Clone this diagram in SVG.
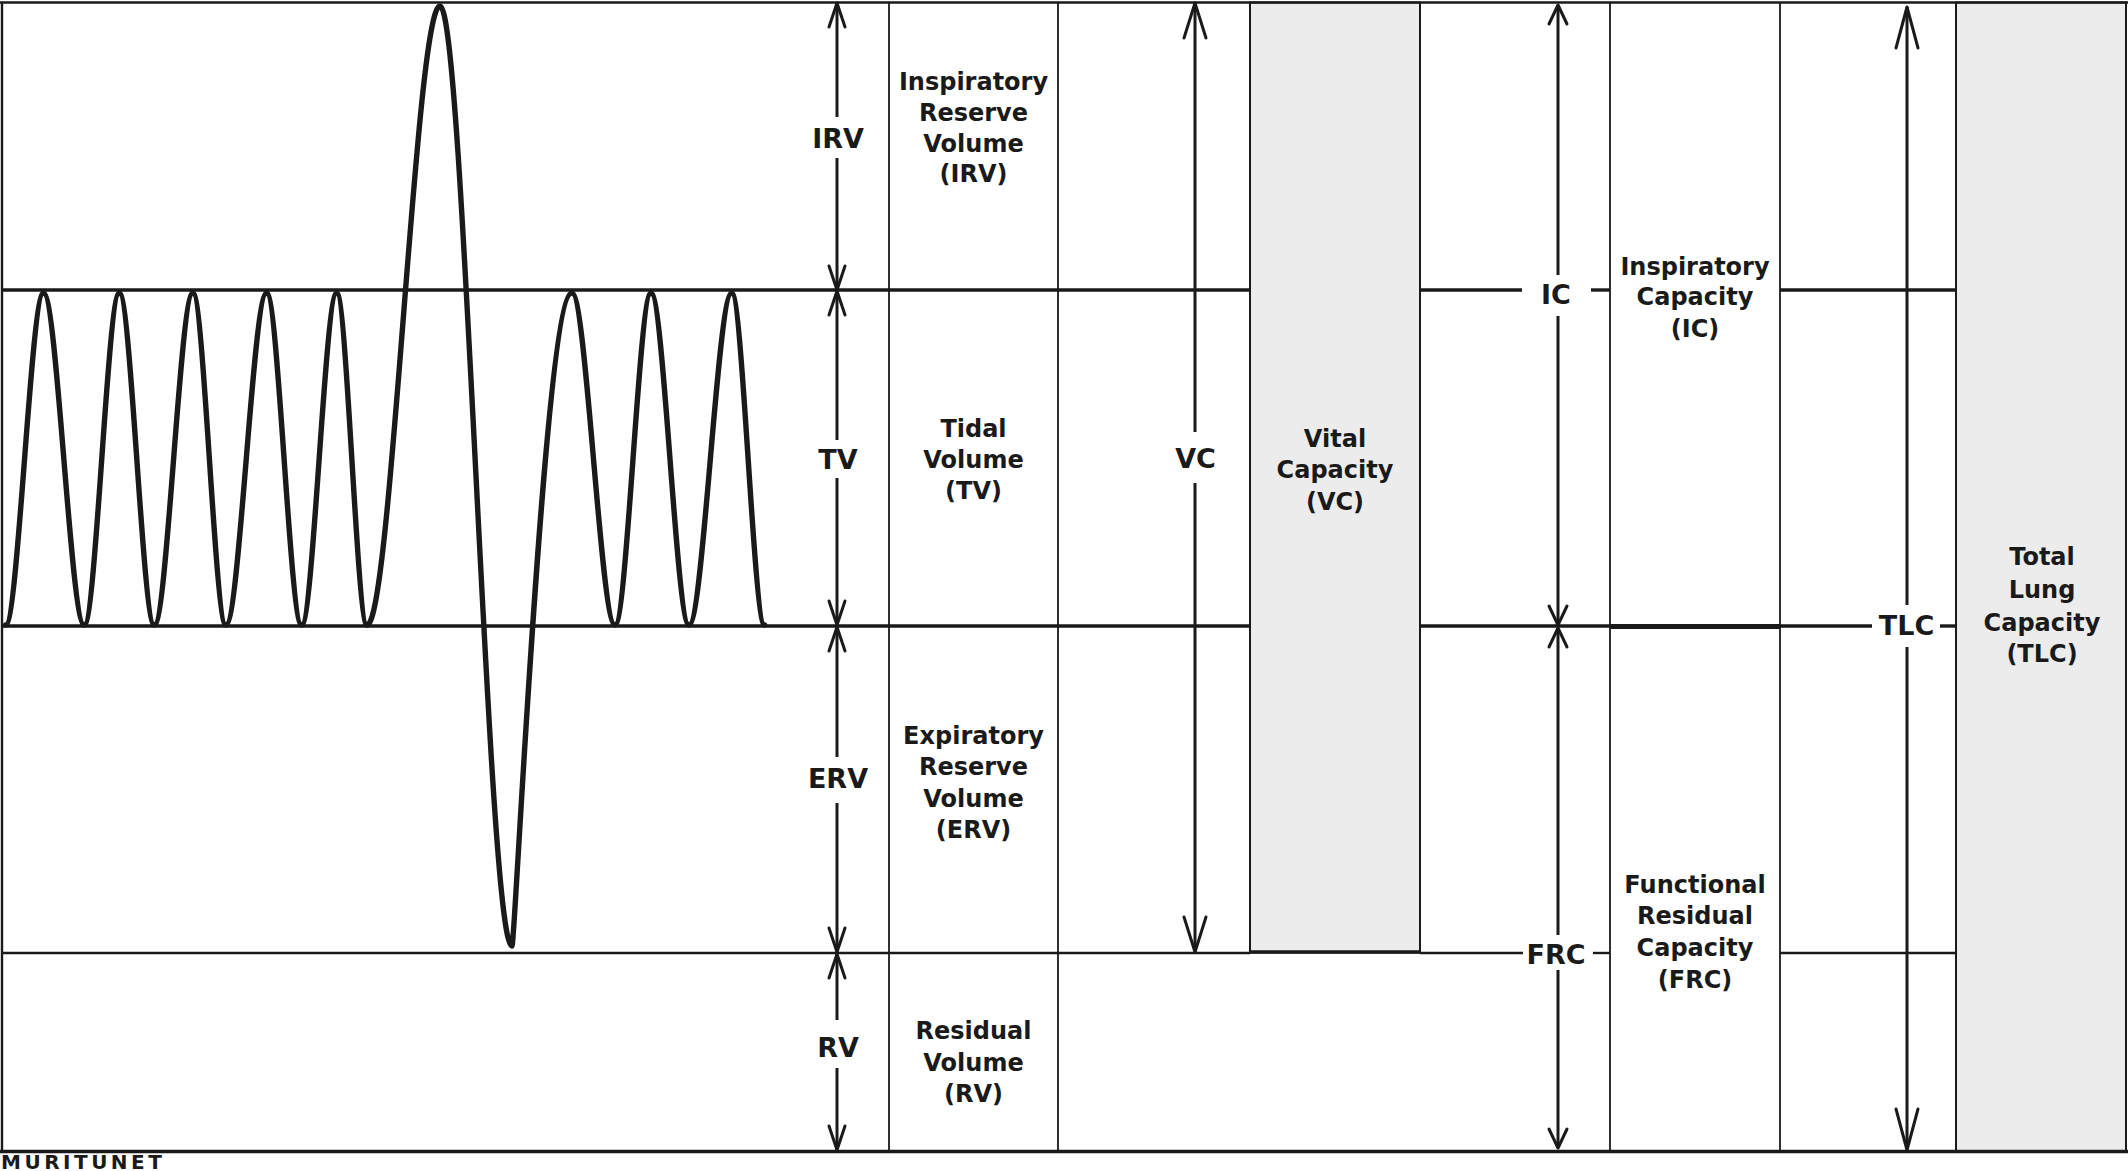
<svg xmlns="http://www.w3.org/2000/svg" width="2128" height="1171" viewBox="0 0 2128 1171">
<style>
.ln{stroke:#1a1a1a;fill:none;stroke-linecap:butt}
.thin{stroke-width:1.8}
.mid{stroke-width:2.4}
.thick{stroke-width:3.4}
.shaft{stroke:#1a1a1a;stroke-width:3;fill:none}
.lbl{font-family:"DejaVu Sans","Liberation Sans",sans-serif;font-weight:bold;font-size:27px;fill:#1a1a1a;text-anchor:middle}
.box{font-family:"DejaVu Sans","Liberation Sans",sans-serif;font-weight:bold;font-size:24px;fill:#1a1a1a;text-anchor:middle}
.cap{fill:#ececec;stroke:#1a1a1a;stroke-width:2}
.wave{fill:none;stroke:#1a1a1a;stroke-width:5.4;stroke-linejoin:round;stroke-linecap:round}
.mk{fill:none;stroke:#1a1a1a;stroke-width:3;stroke-linejoin:round;stroke-linecap:round}
.wm{font-family:"DejaVu Sans","Liberation Sans",sans-serif;font-weight:bold;font-size:20px;fill:#1a1a1a;letter-spacing:3.5px}
</style>
<defs>
<marker id="ahS" markerUnits="userSpaceOnUse" viewBox="-50 -20 60 40" markerWidth="60" markerHeight="40" refX="0" refY="0" orient="auto-start-reverse" overflow="visible"><path class="mk" d="M-24,-8 L0,0 L-24,8"/></marker>
<marker id="ahM" markerUnits="userSpaceOnUse" viewBox="-50 -20 60 40" markerWidth="60" markerHeight="40" refX="0" refY="0" orient="auto-start-reverse" overflow="visible"><path class="mk" d="M-19,-9 L0,0 L-19,9"/></marker>
<marker id="ahL" markerUnits="userSpaceOnUse" viewBox="-50 -20 60 40" markerWidth="60" markerHeight="40" refX="0" refY="0" orient="auto-start-reverse" overflow="visible"><path class="mk" d="M-35,-11 L0,0 L-35,11"/></marker>
<marker id="ahXL" markerUnits="userSpaceOnUse" viewBox="-50 -20 60 40" markerWidth="60" markerHeight="40" refX="0" refY="0" orient="auto-start-reverse" overflow="visible"><path class="mk" d="M-41,-11 L0,0 L-41,11"/></marker>
</defs>
<rect x="0" y="0" width="2128" height="1171" fill="#ffffff"/>

<g id="grid">
  <rect id="vc-band" class="cap" x="1250" y="2.5" width="170" height="950"/>
  <rect id="tlc-band" class="cap" x="1956" y="2.5" width="170" height="1148.5"/>
  <line class="ln mid" x1="0" y1="2.5" x2="2128" y2="2.5"/>
  <line class="ln mid" x1="2" y1="2" x2="2" y2="1152"/>
  <line class="ln thick" x1="0" y1="1151.5" x2="2128" y2="1151.5"/>
  <line class="ln thin" x1="889" y1="2" x2="889" y2="1151"/>
  <line class="ln thin" x1="1058" y1="2" x2="1058" y2="1151"/>
  <line class="ln thin" x1="1610" y1="2" x2="1610" y2="1151"/>
  <line class="ln thin" x1="1780" y1="2" x2="1780" y2="1151"/>
  <line class="ln thick" x1="3" y1="290" x2="1250" y2="290"/>
  <line class="ln thick" x1="1420" y1="290" x2="1522" y2="290"/>
  <line class="ln thick" x1="1591" y1="290" x2="1610" y2="290"/>
  <line class="ln thick" x1="1780" y1="290" x2="1956" y2="290"/>
  <line class="ln thick" x1="3" y1="626" x2="1250" y2="626"/>
  <line class="ln thick" x1="1420" y1="626" x2="1610" y2="626"/>
  <line class="ln" stroke-width="5" x1="1610" y1="626.5" x2="1780" y2="626.5"/>
  <line class="ln thick" x1="1780" y1="626" x2="1872" y2="626"/>
  <line class="ln thick" x1="1940" y1="626" x2="1956" y2="626"/>
  <line class="ln mid" x1="3" y1="953" x2="1250" y2="953"/>
  <line class="ln thick" x1="1250" y1="952" x2="1420" y2="952"/>
  <line class="ln mid" x1="1420" y1="953" x2="1523" y2="953"/>
  <line class="ln mid" x1="1593" y1="953" x2="1610" y2="953"/>
  <line class="ln mid" x1="1780" y1="953" x2="1956" y2="953"/>
</g>

<g id="spirogram">
  <path class="wave" d="M5.6,625 C18.2,625 30.9,293 43.5,293 C57.1,293 70.6,625 84.2,625 C95.9,625 107.6,293 119.3,293 C131,293 142.6,625 154.3,625 C167.2,625 180,293 192.9,293 C203.9,293 214.9,625 225.9,625 C239.5,625 253,293 266.6,293 C278.3,293 289.9,625 301.6,625 C313.3,625 325,293 336.7,293 C346.8,293 356.9,625 367,625 C391.3,625 415.7,6 440,6 C464,6 488,946 512,946 C515,946 545,293 572,293 C586.3,293 600.7,625 615,625 C627,625 639,293 651,293 C663.7,293 676.3,625 689,625 C703.2,625 717.5,293 731.7,293 C742.7,293 753.6,625 764.6,625"/>
</g>

<g id="connectors">
  <line class="shaft" x1="837" y1="3" x2="837" y2="117" marker-start="url(#ahS)"/>
  <line class="shaft" x1="837" y1="158" x2="837" y2="290" marker-end="url(#ahS)"/>
  <line class="shaft" x1="837" y1="291" x2="837" y2="440" marker-start="url(#ahS)"/>
  <line class="shaft" x1="837" y1="478" x2="837" y2="625" marker-end="url(#ahS)"/>
  <line class="shaft" x1="837" y1="627" x2="837" y2="757" marker-start="url(#ahS)"/>
  <line class="shaft" x1="837" y1="803" x2="837" y2="952" marker-end="url(#ahS)"/>
  <line class="shaft" x1="837" y1="954" x2="837" y2="1020" marker-start="url(#ahS)"/>
  <line class="shaft" x1="837" y1="1068" x2="837" y2="1150" marker-end="url(#ahS)"/>
  <line class="shaft" x1="1195" y1="3" x2="1195" y2="432" marker-start="url(#ahL)"/>
  <line class="shaft" x1="1195" y1="483" x2="1195" y2="952" marker-end="url(#ahL)"/>
  <line class="shaft" x1="1558" y1="5" x2="1558" y2="275" marker-start="url(#ahM)"/>
  <line class="shaft" x1="1558" y1="316" x2="1558" y2="625" marker-end="url(#ahM)"/>
  <line class="shaft" x1="1558" y1="628" x2="1558" y2="935" marker-start="url(#ahM)"/>
  <line class="shaft" x1="1558" y1="970" x2="1558" y2="1148" marker-end="url(#ahM)"/>
  <line class="shaft" x1="1907" y1="7" x2="1907" y2="605" marker-start="url(#ahXL)"/>
  <line class="shaft" x1="1907" y1="647" x2="1907" y2="1150" marker-end="url(#ahXL)"/>
</g>

<g id="lbl-irv"><text class="lbl" x="838" y="148">IRV</text></g>
<g id="lbl-tv"><text class="lbl" x="838" y="468.5">TV</text></g>
<g id="lbl-erv"><text class="lbl" x="838" y="787.5">ERV</text></g>
<g id="lbl-rv"><text class="lbl" x="838" y="1057">RV</text></g>
<g id="lbl-vc"><text class="lbl" x="1195.5" y="468">VC</text></g>
<g id="lbl-ic"><text class="lbl" x="1556" y="304">IC</text></g>
<g id="lbl-frc"><text class="lbl" x="1556" y="964">FRC</text></g>
<g id="lbl-tlc"><text class="lbl" x="1906.5" y="635">TLC</text></g>

<g id="box-irv">
  <text class="box" x="973.5" y="90">Inspiratory</text>
  <text class="box" x="973.5" y="121">Reserve</text>
  <text class="box" x="973.5" y="152">Volume</text>
  <text class="box" x="973.5" y="182">(IRV)</text>
</g>
<g id="box-tv">
  <text class="box" x="973.5" y="437">Tidal</text>
  <text class="box" x="973.5" y="468">Volume</text>
  <text class="box" x="973.5" y="499">(TV)</text>
</g>
<g id="box-erv">
  <text class="box" x="973.5" y="744">Expiratory</text>
  <text class="box" x="973.5" y="775">Reserve</text>
  <text class="box" x="973.5" y="807">Volume</text>
  <text class="box" x="973.5" y="838">(ERV)</text>
</g>
<g id="box-rv">
  <text class="box" x="973.5" y="1039">Residual</text>
  <text class="box" x="973.5" y="1070.5">Volume</text>
  <text class="box" x="973.5" y="1102">(RV)</text>
</g>
<g id="box-vc">
  <text class="box" x="1335" y="447">Vital</text>
  <text class="box" x="1335" y="478">Capacity</text>
  <text class="box" x="1335" y="510">(VC)</text>
</g>
<g id="box-ic">
  <text class="box" x="1695" y="275">Inspiratory</text>
  <text class="box" x="1695" y="305">Capacity</text>
  <text class="box" x="1695" y="337">(IC)</text>
</g>
<g id="box-frc">
  <text class="box" x="1695" y="893">Functional</text>
  <text class="box" x="1695" y="924">Residual</text>
  <text class="box" x="1695" y="956">Capacity</text>
  <text class="box" x="1695" y="988">(FRC)</text>
</g>
<g id="box-tlc">
  <text class="box" x="2042" y="565">Total</text>
  <text class="box" x="2042" y="598">Lung</text>
  <text class="box" x="2042" y="631">Capacity</text>
  <text class="box" x="2042" y="662">(TLC)</text>
</g>

<g id="watermark"><text class="wm" x="1" y="1169">MURITUNET</text></g>
</svg>
